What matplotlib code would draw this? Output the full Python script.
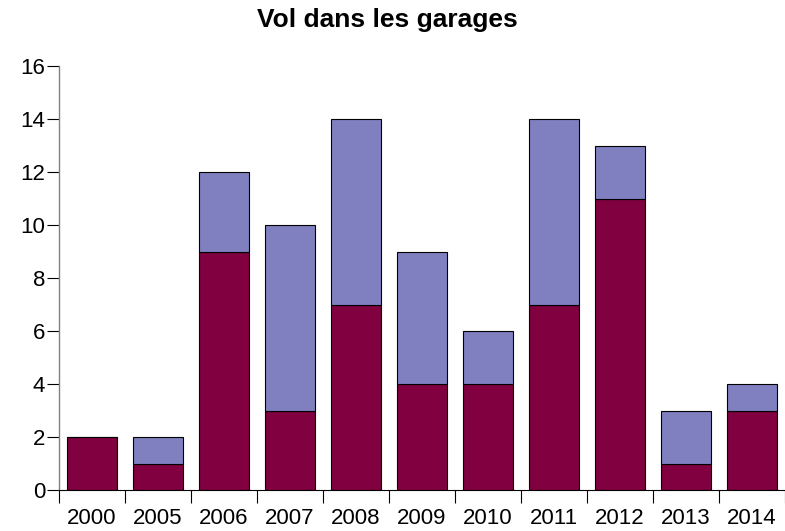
import matplotlib
matplotlib.use("Agg")
import matplotlib.pyplot as plt
import numpy as np
from matplotlib.ticker import FixedLocator

plt.rcParams['font.family'] = ['Liberation Sans', 'DejaVu Sans']

years = ["2000", "2005", "2006", "2007", "2008", "2009", "2010", "2011", "2012", "2013", "2014"]
bottom_vals = [2, 1, 9, 3, 7, 4, 4, 7, 11, 1, 3]
top_vals = [0, 1, 3, 7, 7, 5, 2, 7, 2, 2, 1]
yticks = [0, 2, 4, 6, 8, 10, 12, 14, 16]

fig = plt.figure(figsize=(7.85, 5.31), dpi=100)
ax = fig.add_axes([59/785, 41/531, 1 - 59/785, (490-66)/531])

x = np.arange(len(years))
w = 0.77
ax.bar(x, bottom_vals, width=w, color='#800040', edgecolor='black', linewidth=0.8, zorder=2)
ax.bar(x, top_vals, width=w, bottom=bottom_vals, color='#8080C0', edgecolor='black', linewidth=0.8, zorder=2)

ax.set_xlim(-0.5, len(years) - 0.5)
ax.set_ylim(0, 16)
ax.set_yticks(yticks)
ax.set_xticks(x)
ax.set_xticklabels(years)
ax.xaxis.set_minor_locator(FixedLocator(np.arange(-0.5, len(years) - 0.4, 1.0)))
ax.tick_params(axis='x', which='major', length=0, pad=13, labelsize=16)
ax.tick_params(axis='x', which='minor', length=9, width=0.8, color='black', direction='out')
ax.tick_params(axis='y', length=9, width=0.8, color='black', pad=1, labelsize=16)

for s in ['top', 'right']:
    ax.spines[s].set_visible(False)
ax.spines['left'].set_color('#808080')
ax.spines['left'].set_linewidth(1.0)
ax.spines['bottom'].set_color('black')
ax.spines['bottom'].set_linewidth(0.8)

fig.text(387/785, 1 - 20/531, "Vol dans les garages", ha='center', va='center',
         fontsize=19, fontweight='bold')

fig.savefig("out.png", dpi=100)
